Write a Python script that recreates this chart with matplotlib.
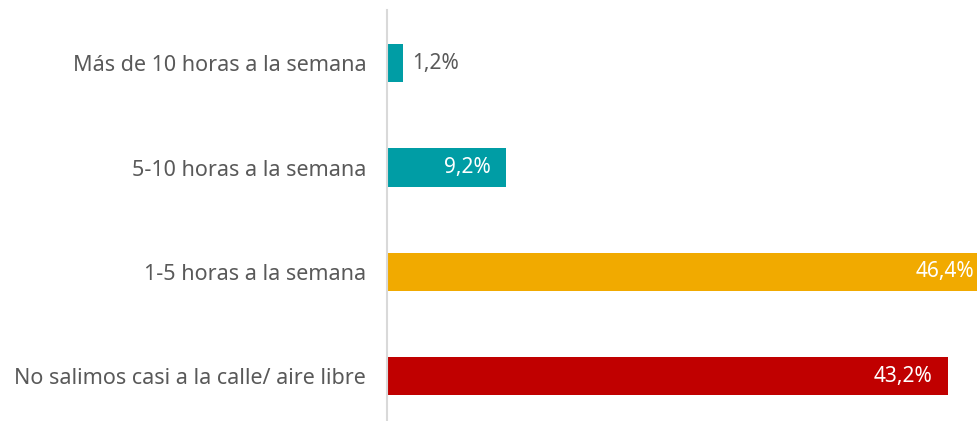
import matplotlib.pyplot as plt

# categories from top to bottom
categories = ["Más de 10 horas a la semana", "5-10 horas a la semana",
              "1-5 horas a la semana", "No salimos casi a la calle/ aire libre"]
values = [1.2, 9.2, 46.4, 43.2]
labels = ["1,2%", "9,2%", "46,4%", "43,2%"]
colors = ["#009DA5", "#009DA5", "#F1AA00", "#C00000"]

plt.rcParams['font.family'] = ['Noto Sans', 'DejaVu Sans']

fig = plt.figure(figsize=(9.78, 4.21), dpi=100)
ax = fig.add_axes([387 / 978, 0, 591 / 978, 411 / 421])

pos = range(len(categories))
ax.barh(pos, values, height=0.365, color=colors)

ax.set_xlim(0, 45.5)
ax.set_ylim(3.43, -0.51)
ax.set_yticks(list(pos))
ax.set_yticklabels(categories, fontsize=15.5, color="#595959")
ax.tick_params(axis="y", length=0, pad=15)
ax.set_xticks([])

for s in ["top", "right", "bottom"]:
    ax.spines[s].set_visible(False)
ax.spines["left"].set_color("#D9D9D9")
ax.spines["left"].set_linewidth(1.5)

# data labels: small bar outside, the rest inside in white
for i, (v, lab) in enumerate(zip(values, labels)):
    if v < 5:
        ax.annotate(lab, (v, i), xytext=(7, 0), textcoords="offset points",
                    ha="left", va="center", fontsize=15, color="#595959")
    else:
        ax.annotate(lab, (v, i), xytext=(-11, 0), textcoords="offset points",
                    ha="right", va="center", fontsize=15, color="white",
                    annotation_clip=False)

fig.savefig("out.png", dpi=100)
